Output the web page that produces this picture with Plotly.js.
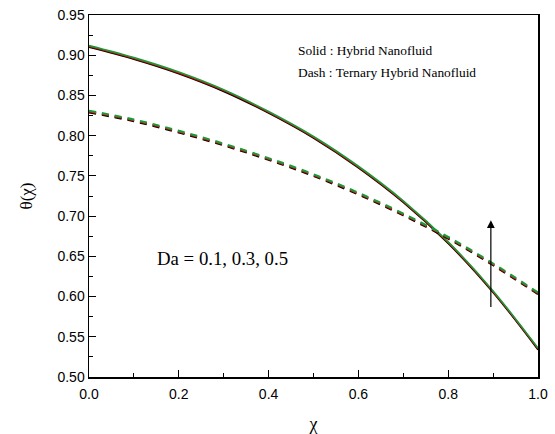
<!DOCTYPE html>
<html>
<head>
<meta charset="utf-8">
<script src="https://cdn.plot.ly/plotly-3.0.1.min.js"></script>
<style>html,body{margin:0;padding:0;background:#fff;}#chart{width:555px;height:434px;}</style>
</head>
<body>
<div id="chart"></div>
<script>
// chi values
const chi = [0.0, 0.1, 0.2, 0.3, 0.4, 0.5, 0.6, 0.7, 0.8, 0.9, 1.0];

// Solid : Hybrid Nanofluid (Da = 0.1, 0.3, 0.5)
const hybridDa01 = [0.910, 0.895, 0.877, 0.855, 0.828, 0.797, 0.760, 0.717, 0.666, 0.605, 0.534];
const hybridDa03 = [0.911, 0.896, 0.878, 0.856, 0.829, 0.798, 0.761, 0.718, 0.667, 0.606, 0.535];
const hybridDa05 = [0.912, 0.897, 0.879, 0.857, 0.830, 0.799, 0.762, 0.719, 0.668, 0.607, 0.536];

// Dash : Ternary Hybrid Nanofluid (Da = 0.1, 0.3, 0.5)
const ternaryDa01 = [0.829, 0.818, 0.804, 0.788, 0.770, 0.750, 0.727, 0.701, 0.672, 0.639, 0.603];
const ternaryDa03 = [0.830, 0.819, 0.805, 0.789, 0.771, 0.751, 0.728, 0.702, 0.673, 0.640, 0.604];
const ternaryDa05 = [0.831, 0.820, 0.806, 0.790, 0.772, 0.752, 0.729, 0.703, 0.674, 0.641, 0.605];

const seriesColors = ['#000000', '#cc0000', '#1a9a3a'];

// arrow (Da increasing)
const arrowX = 0.895;
const arrowFrom = 0.585;
const arrowTo = 0.695;

const hybrid = [hybridDa01, hybridDa03, hybridDa05];
const ternary = [ternaryDa01, ternaryDa03, ternaryDa05];

const traces = [];
hybrid.forEach((ys, i) => {
  traces.push({x: chi, y: ys, type: 'scatter', mode: 'lines',
    line: {color: seriesColors[i], width: 1.6, shape: 'spline', smoothing: 1}, showlegend: false, hoverinfo: 'skip'});
});
ternary.forEach((ys, i) => {
  traces.push({x: chi, y: ys, type: 'scatter', mode: 'lines',
    line: {color: seriesColors[i], width: 2.2, dash: '7px,6px', shape: 'spline', smoothing: 1}, showlegend: false, hoverinfo: 'skip'});
});

const serif = 'Liberation Serif, Times New Roman, serif';
const sans = 'Liberation Sans, Arial, sans-serif';

const layout = {
  width: 555, height: 434,
  margin: {l: 89, r: 17, t: 15, b: 57},
  paper_bgcolor: '#fff', plot_bgcolor: '#fff',
  showlegend: false,
  xaxis: {
    range: [0, 1], tickvals: [0, 0.2, 0.4, 0.6, 0.8, 1.0], tickformat: '.1f',
    ticks: 'inside', ticklen: 7, tickwidth: 1.2, tickcolor: '#000',
    minor: {dtick: 0.1, ticks: 'inside', ticklen: 4, tickwidth: 1, tickcolor: '#000', tick0: 0},
    showline: true, linecolor: '#000', linewidth: 1.5, mirror: true,
    showgrid: false, zeroline: false, ticklabelstandoff: 4,
    tickfont: {family: sans, size: 14, color: '#000'},
    title: {text: 'χ', font: {family: serif, size: 18, color: '#000'}, standoff: 22}
  },
  yaxis: {
    range: [0.5, 0.95], dtick: 0.05, tick0: 0.5, tickformat: '.2f',
    ticks: 'inside', ticklen: 7, tickwidth: 1.2, tickcolor: '#000',
    minor: {dtick: 0.025, ticks: 'inside', ticklen: 4, tickwidth: 1, tickcolor: '#000'},
    showline: true, linecolor: '#000', linewidth: 1.5, mirror: true,
    showgrid: false, zeroline: false,
    tickfont: {family: sans, size: 14, color: '#000'},
    title: {text: 'θ(χ)', font: {family: serif, size: 17, color: '#000'}, standoff: 20}
  },
  annotations: [
    {xref: 'paper', yref: 'paper', x: 0.46, y: 0.903, xanchor: 'left', yanchor: 'middle',
     text: 'Solid : Hybrid Nanofluid', showarrow: false, font: {family: serif, size: 13.4, color: '#000'}},
    {xref: 'paper', yref: 'paper', x: 0.46, y: 0.840, xanchor: 'left', yanchor: 'middle',
     text: 'Dash : Ternary Hybrid Nanofluid', showarrow: false, font: {family: serif, size: 13.4, color: '#000'}},
    {xref: 'paper', yref: 'paper', x: 0.147, y: 0.326, xanchor: 'left', yanchor: 'middle',
     text: 'Da = 0.1, 0.3, 0.5', showarrow: false, font: {family: serif, size: 18.8, color: '#000'}},
    {x: arrowX, y: arrowTo, ax: arrowX, ay: arrowFrom, xref: 'x', yref: 'y', axref: 'x', ayref: 'y',
     text: '', showarrow: true, arrowhead: 2, arrowsize: 1.3, arrowwidth: 1.2, arrowcolor: '#000'}
  ]
};

Plotly.newPlot('chart', traces, layout, {displayModeBar: false, staticPlot: true});
</script>
</body>
</html>
